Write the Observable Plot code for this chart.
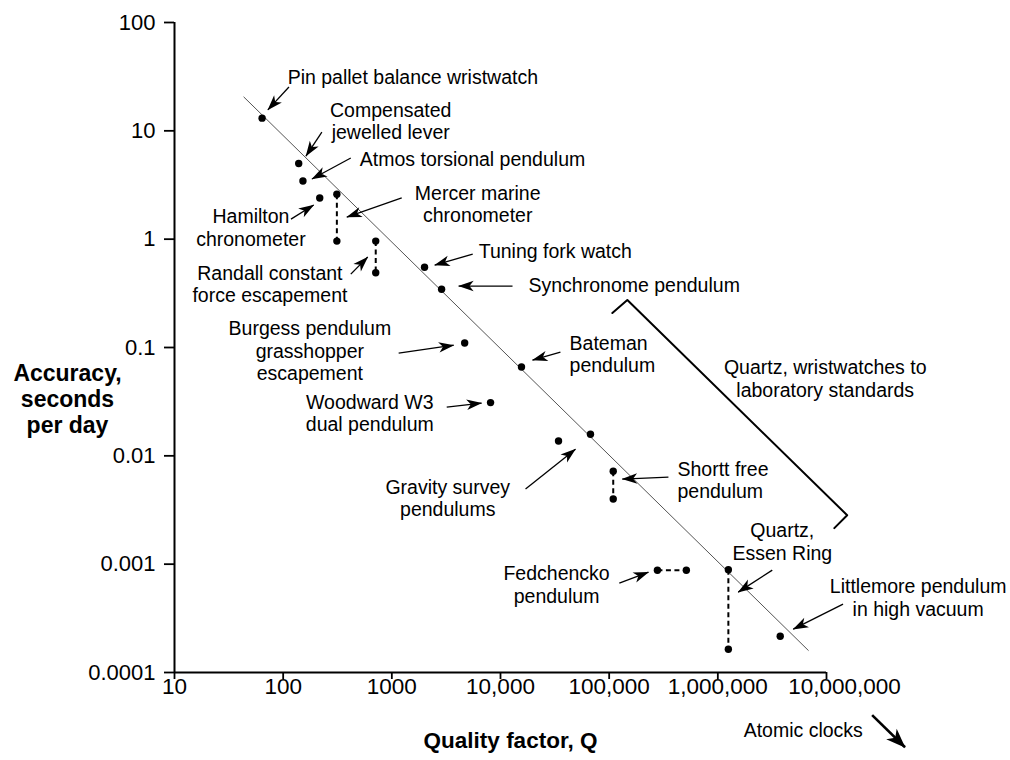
<!DOCTYPE html>
<html><head><meta charset="utf-8">
<script src="https://cdn.jsdelivr.net/npm/d3@7"></script>
<script src="https://cdn.jsdelivr.net/npm/@observablehq/plot@0.6"></script>
<style>html,body{margin:0;padding:0;background:#fff;} svg{display:block}</style>
</head><body><div id="chart"></div>
<script>
// ---------------- data ----------------
const xTicks = [10, 100, 1000, 1e4, 1e5, 1e6, 1e7];
const xTickLabels = ["10", "100", "1000", "10,000", "100,000", "1,000,000", "10,000,000"];
const yTicks = [100, 10, 1, 0.1, 0.01, 0.001, 0.0001];
const yTickLabels = ["100", "10", "1", "0.1", "0.01", "0.001", "0.0001"];

const xTitle = "Quality factor, Q";
const yTitle = "Accuracy,\nseconds\nper day";

// clocks (Q, accuracy in seconds per day)
const clockNames = [
  "Pin pallet", "Compensated lever", "Atmos", "Hamilton",
  "Mercer", "Mercer", "Randall", "Randall", "Tuning fork", "Synchronome",
  "Burgess", "Bateman", "Woodward W3", "Gravity survey", "Gravity survey",
  "Shortt", "Shortt", "Fedchencko", "Fedchencko", "Essen Ring", "Essen Ring", "Littlemore"
];
const clockQ = [64, 139, 152, 217, 312, 312, 711, 711, 2000, 2870, 4680, 15600, 8100,
  34200, 67300, 109000, 109000, 278000, 513000, 1250000, 1250000, 3750000];
const clockAccuracy = [13.1, 5.0, 3.44, 2.40, 2.6, 0.96, 0.96, 0.49, 0.55, 0.345, 0.11, 0.066, 0.031,
  0.0137, 0.0158, 0.0072, 0.0040, 0.00088, 0.00088, 0.00089, 0.000164, 0.000216];
// clocks shown as a range between two values
const rangeNames = ["Mercer", "Randall", "Shortt", "Fedchencko", "Essen Ring"];

// trend line
const trendQ = [43.5, 6.8e6];
const trendAccuracy = [20.5, 0.00016];

// annotation labels
const labelTexts = [
  "Pin pallet balance wristwatch",
  "Compensated\njewelled lever",
  "Atmos torsional pendulum",
  "Mercer marine\nchronometer",
  "Hamilton\nchronometer",
  "Randall constant\nforce escapement",
  "Tuning fork watch",
  "Synchronome pendulum",
  "Burgess pendulum\ngrasshopper\nescapement",
  "Bateman\npendulum",
  "Woodward W3\ndual pendulum",
  "Gravity survey\npendulums",
  "Shortt free\npendulum",
  "Quartz, wristwatches to\nlaboratory standards",
  "Fedchencko\npendulum",
  "Quartz,\nEssen Ring",
  "Littlemore pendulum\nin high vacuum",
  "Atomic clocks"
];
const labelQ = [110, 977, 507, 6170, 50.5, 75.5, 6300, 18100, 176, 43200, 627, 3270, 425000, 9.73e6, 32800, 3.92e6, 6.97e7, 6.11e6];
const labelAccuracy = [31.4, 12.4, 5.5, 2.13, 1.29, 0.385, 0.776, 0.377, 0.0935, 0.0869, 0.0248, 0.00411, 0.00603, 0.0521, 0.000653, 0.00163, 0.000495, 2.93e-5];
const startAnchored = new Set([0, 2, 6, 7, 9, 12]);

// pointer arrows (from label to clock)
const arrowFromQ = [113, 227, 419, 118, 1233, 419, 5550, 12900, 1156, 35600, 3200, 17000, 351000, 124000, 3.17e6, 1.42e7];
const arrowFromAccuracy = [25.4, 9.75, 5.61, 1.53, 2.40, 0.476, 0.728, 0.369, 0.0887, 0.0907, 0.0282, 0.00493, 0.00636, 0.000668, 0.000881, 0.000428];
const arrowToQ = [72.3, 162, 184, 191, 385, 600, 2480, 4120, 3710, 19700, 6700, 49000, 132000, 230000, 1.54e6, 4.94e6];
const arrowToAccuracy = [15.6, 5.85, 3.59, 2.07, 1.60, 0.684, 0.577, 0.369, 0.105, 0.0766, 0.0307, 0.01153, 0.00610, 0.000843, 0.000552, 0.000251];

// atomic clocks arrow
const atomicQ = [2.63e7, 5.28e7];
const atomicAccuracy = [4.04e-5, 2.04e-5];

// quartz bracket
const bracketQ = [107000, 147000, 1.55e7, 1.18e7];
const bracketAccuracy = [0.208, 0.274, 0.00283, 0.00215];

// ---------------- build ----------------
const points = clockNames.map((name, i) => ({name, q: clockQ[i], acc: clockAccuracy[i]}));
const ranges = rangeNames.map(n => {
  const p = points.filter(d => d.name === n);
  return {q1: p[0].q, a1: p[0].acc, q2: p[1].q, a2: p[1].acc};
});
const trend = trendQ.map((q, i) => ({q, acc: trendAccuracy[i]}));
const labels = labelTexts.map((t, i) => ({t, q: labelQ[i], acc: labelAccuracy[i], start: startAnchored.has(i)}));
const arrows = arrowFromQ.map((q, i) => ({q1: q, a1: arrowFromAccuracy[i], q2: arrowToQ[i], a2: arrowToAccuracy[i]}));
const atomic = [{q1: atomicQ[0], a1: atomicAccuracy[0], q2: atomicQ[1], a2: atomicAccuracy[1]}];
const bracket = bracketQ.map((q, i) => ({q, acc: bracketAccuracy[i]}));
const xTickData = xTicks.map((v, i) => ({v, label: xTickLabels[i]}));
const yTickData = yTicks.map((v, i) => ({v, label: yTickLabels[i]}));

function arrowHead(len, wid) {
  return (color) => {
    const m = d3.create("svg:marker")
      .attr("viewBox", `${-len} ${-wid / 2} ${len} ${wid}`)
      .attr("markerUnits", "userSpaceOnUse")
      .attr("markerWidth", len).attr("markerHeight", wid)
      .attr("refX", 0).attr("refY", 0)
      .attr("orient", "auto")
      .attr("overflow", "visible");
    m.append("path")
      .attr("d", `M0.5,0L${-len},${-wid / 2}L${-len * 0.72},0L${-len},${wid / 2}Z`)
      .attr("fill", color).attr("stroke", "none");
    return m.node();
  };
}

const FONT = "'Liberation Sans', Arial, Helvetica, sans-serif";

const chart = Plot.plot({
  width: 1010,
  height: 760,
  marginLeft: 174,
  marginRight: 184,
  marginTop: 22,
  marginBottom: 88,
  style: {fontFamily: FONT, fontSize: "20px", background: "#fff", color: "#000", overflow: "visible"},
  x: {type: "log", domain: [10, 1e7]},
  y: {type: "log", domain: [1e-4, 100]},
  marks: [
    // axes: tick lines
    Plot.axisX({ticks: xTicks, tickSize: 7, strokeWidth: 1.8, text: null, label: null}),
    Plot.axisY({ticks: yTicks, tickSize: 10, strokeWidth: 1.8, text: null, label: null}),
    Plot.ruleX([10], {y1: 1e-4, y2: 100, strokeWidth: 2}),
    Plot.ruleY([1e-4], {x1: 10, x2: 1e7, strokeWidth: 2}),
    // axes: tick labels
    Plot.text(xTickData.slice(0, -1), {x: "v", frameAnchor: "bottom", dy: 21, text: "label", fontSize: 22.5}),
    Plot.text(xTickData.slice(-1), {x: "v", frameAnchor: "bottom", dy: 21, dx: 18, text: "label", fontSize: 22.5}),
    Plot.text(yTickData, {y: "v", frameAnchor: "left", dx: -19, textAnchor: "end", text: "label", fontSize: 22}),
    // axis titles
    Plot.text([xTitle], {frameAnchor: "bottom", dx: 10, dy: 75, fontSize: 22.5, fontWeight: "bold"}),
    Plot.text([yTitle], {frameAnchor: "left", dx: -107, dy: 51, textAnchor: "middle", fontSize: 23, fontWeight: "bold", lineHeight: 1.13}),
    // trend line
    Plot.line(trend, {x: "q", y: "acc", stroke: "#555", strokeWidth: 1}),
    // quartz bracket
    Plot.line(bracket, {x: "q", y: "acc", stroke: "#000", strokeWidth: 2}),
    // ranges
    Plot.link(ranges, {x1: "q1", y1: "a1", x2: "q2", y2: "a2", stroke: "#000", strokeWidth: 2, strokeDasharray: "5,3.5"}),
    // points
    Plot.dot(points, {x: "q", y: "acc", r: 3.7, fill: "#000"}),
    // arrows
    Plot.link(arrows, {x1: "q1", y1: "a1", x2: "q2", y2: "a2", stroke: "#000", strokeWidth: 1.3, markerEnd: arrowHead(15, 10.5)}),
    Plot.link(atomic, {x1: "q1", y1: "a1", x2: "q2", y2: "a2", stroke: "#000", strokeWidth: 2.6, markerEnd: arrowHead(19, 15)}),
    // labels
    Plot.text(labels.filter(d => d.start), {x: "q", y: "acc", text: "t", textAnchor: "start", fontSize: 19.5, lineHeight: 1.15}),
    Plot.text(labels.filter(d => !d.start), {x: "q", y: "acc", text: "t", textAnchor: "middle", fontSize: 19.5, lineHeight: 1.15})
  ]
});
document.getElementById("chart").appendChild(chart);
</script>
</body></html>
